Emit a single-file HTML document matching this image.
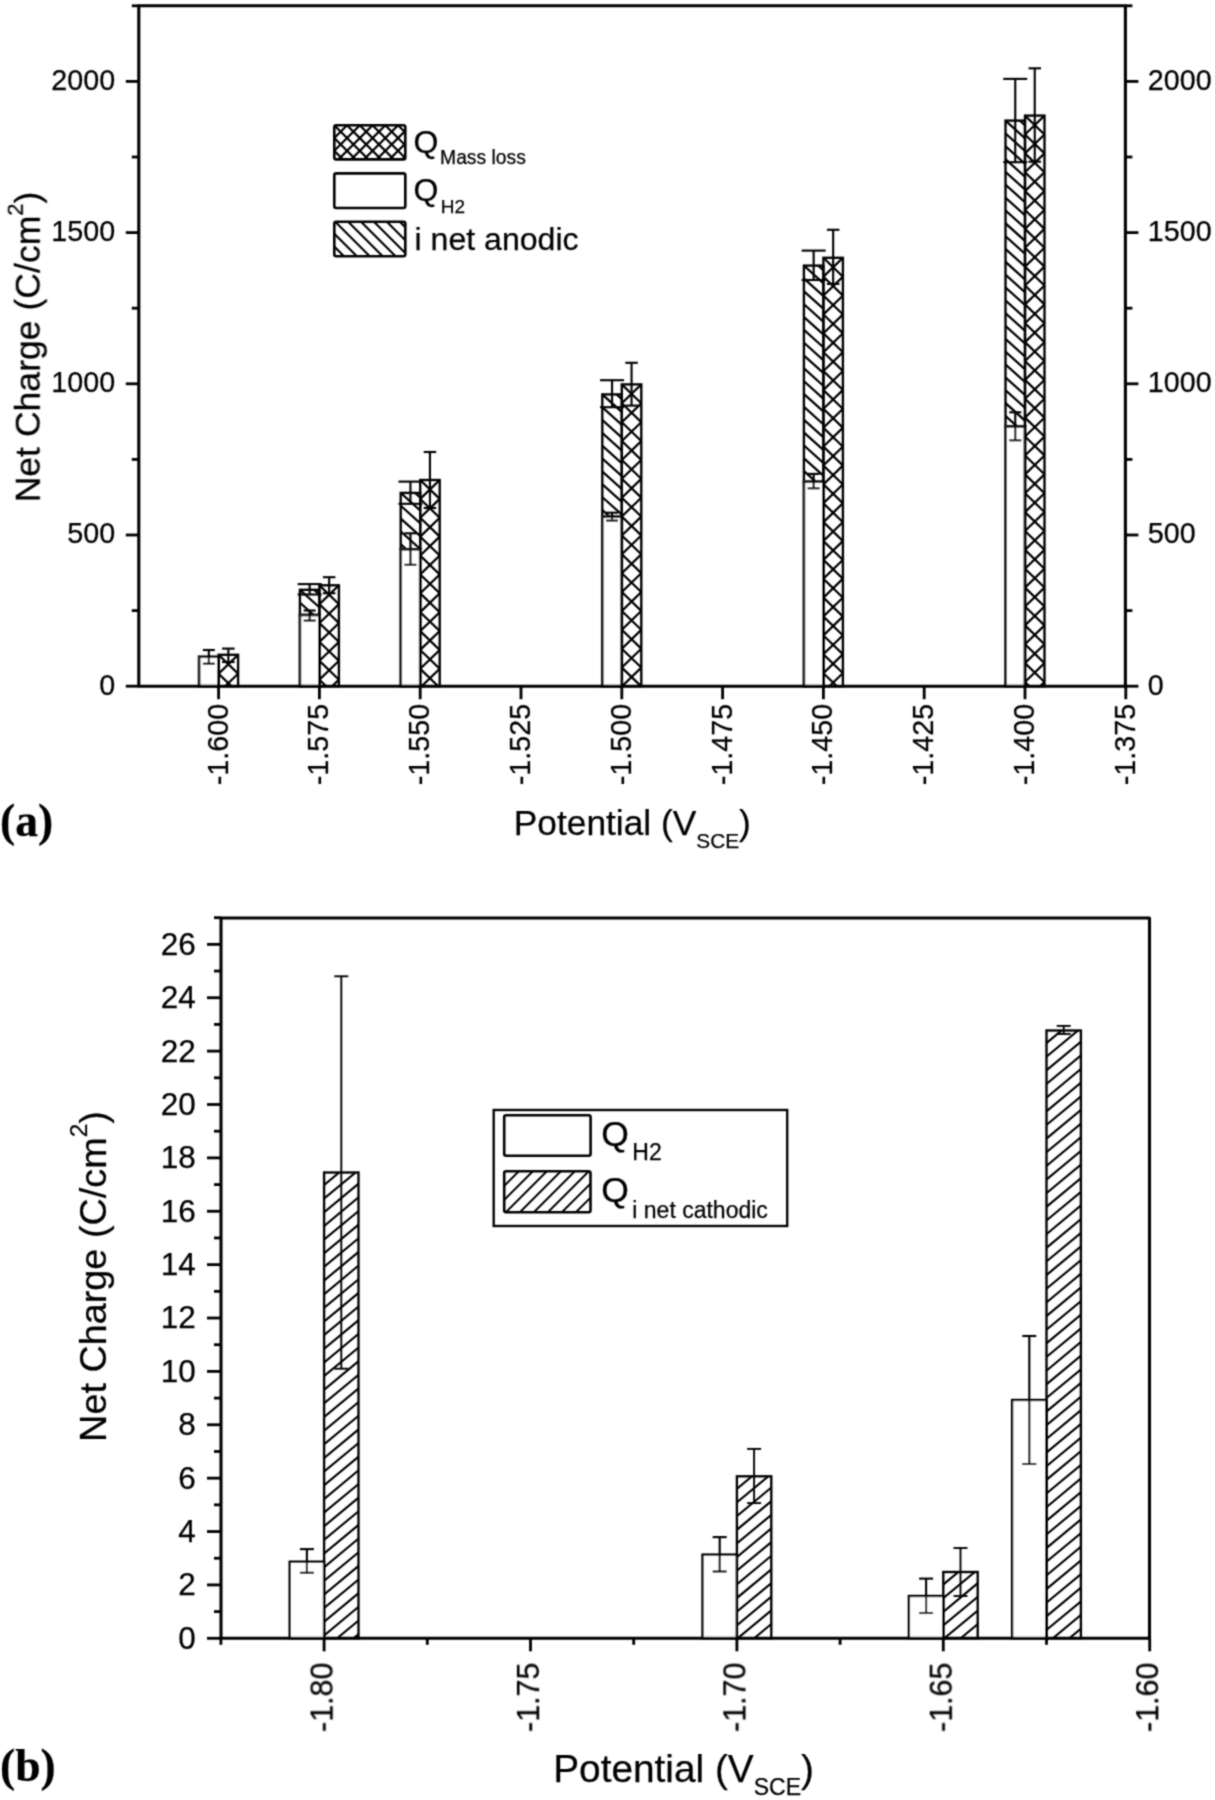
<!DOCTYPE html>
<html><head><meta charset="utf-8"><title>Net charge vs potential</title>
<style>
html,body{margin:0;padding:0;background:#fff;}
body{width:1215px;height:1800px;overflow:hidden;}
svg{display:block;}
text{fill:#000;stroke:#000;stroke-width:0.25px;}
</style></head>
<body>
<svg width="1215" height="1800" viewBox="0 0 1215 1800"><defs><clipPath id="c1"><rect x="218.6" y="654.8" width="19.5" height="31.4"/></clipPath><clipPath id="c2"><rect x="218.6" y="654.8" width="19.5" height="31.4"/></clipPath><clipPath id="c3"><rect x="299.9" y="589.8" width="19.5" height="25.2"/></clipPath><clipPath id="c4"><rect x="319.4" y="585.3" width="19.5" height="100.9"/></clipPath><clipPath id="c5"><rect x="319.4" y="585.3" width="19.5" height="100.9"/></clipPath><clipPath id="c6"><rect x="400.7" y="492.9" width="19.5" height="56.4"/></clipPath><clipPath id="c7"><rect x="420.2" y="480" width="19.5" height="206.2"/></clipPath><clipPath id="c8"><rect x="420.2" y="480" width="19.5" height="206.2"/></clipPath><clipPath id="c9"><rect x="602.3" y="394.4" width="19.5" height="122.3"/></clipPath><clipPath id="c10"><rect x="621.8" y="384.4" width="19.5" height="301.8"/></clipPath><clipPath id="c11"><rect x="621.8" y="384.4" width="19.5" height="301.8"/></clipPath><clipPath id="c12"><rect x="803.9" y="265.6" width="19.5" height="216.1"/></clipPath><clipPath id="c13"><rect x="823.4" y="257.8" width="19.5" height="428.4"/></clipPath><clipPath id="c14"><rect x="823.4" y="257.8" width="19.5" height="428.4"/></clipPath><clipPath id="c15"><rect x="1005.5" y="120.6" width="19.5" height="305.9"/></clipPath><clipPath id="c16"><rect x="1025" y="115.6" width="19.5" height="570.6"/></clipPath><clipPath id="c17"><rect x="1025" y="115.6" width="19.5" height="570.6"/></clipPath><clipPath id="c18"><rect x="334.3" y="125.3" width="71" height="34.1"/></clipPath><clipPath id="c19"><rect x="334.3" y="125.3" width="71" height="34.1"/></clipPath><clipPath id="c20"><rect x="334.3" y="221.8" width="71" height="34.5"/></clipPath><clipPath id="c21"><rect x="324.1" y="1172.5" width="34.4" height="465.8"/></clipPath><clipPath id="c22"><rect x="736.9" y="1476.3" width="34.4" height="162"/></clipPath><clipPath id="c23"><rect x="943.3" y="1572" width="34.4" height="66.3"/></clipPath><clipPath id="c24"><rect x="1046.5" y="1030.5" width="34.4" height="607.8"/></clipPath><clipPath id="c25"><rect x="504.2" y="1171.2" width="86.3" height="41.1"/></clipPath><filter id="soft" filterUnits="userSpaceOnUse" x="0" y="0" width="1215" height="1800"><feConvolveMatrix order="3" kernelMatrix="1 2 1 2 8 2 1 2 1" divisor="20" edgeMode="none"/></filter></defs><rect width="1215" height="1800" fill="#fff"/><g filter="url(#soft)"><rect x="199.1" y="656.7" width="19.5" height="29.5" fill="#fff" stroke="#1c1c1c" stroke-width="2.71" rx="0"/>
<path clip-path="url(#c1)" d="M217.6,634.95L239.1,655.77M217.6,653.83L239.1,674.65M217.6,672.71L239.1,693.53" stroke="#000" stroke-width="2.24" fill="none"/>
<path clip-path="url(#c2)" d="M217.6,655.77L239.1,634.95M217.6,674.65L239.1,653.83M217.6,693.53L239.1,672.71" stroke="#000" stroke-width="2.24" fill="none"/>
<rect x="218.6" y="654.8" width="19.5" height="31.4" fill="none" stroke="#000" stroke-width="2.36" rx="0"/>
<line x1="208.85" y1="650" x2="208.85" y2="663.7" stroke="#000" stroke-width="2.12" stroke-linecap="butt"/>
<line x1="202.85" y1="650" x2="214.85" y2="650" stroke="#000" stroke-width="2.12" stroke-linecap="butt"/>
<line x1="202.85" y1="663.7" x2="214.85" y2="663.7" stroke="#000" stroke-width="2.12" stroke-linecap="butt"/>
<line x1="228.35" y1="648.6" x2="228.35" y2="662" stroke="#000" stroke-width="2.12" stroke-linecap="butt"/>
<line x1="222.1" y1="648.6" x2="234.6" y2="648.6" stroke="#000" stroke-width="2.12" stroke-linecap="butt"/>
<line x1="222.1" y1="662" x2="234.6" y2="662" stroke="#000" stroke-width="2.12" stroke-linecap="butt"/>
<path clip-path="url(#c3)" d="M298.9,576.06L320.4,595.41M298.9,588.9L320.4,608.25M298.9,601.74L320.4,621.09M298.9,614.58L320.4,633.93" stroke="#000" stroke-width="2.24" fill="none"/>
<rect x="299.9" y="589.8" width="19.5" height="25.2" fill="none" stroke="#000" stroke-width="2.36" rx="0"/>
<rect x="299.9" y="615" width="19.5" height="71.2" fill="#fff" stroke="#1c1c1c" stroke-width="2.71" rx="0"/>
<path clip-path="url(#c4)" d="M318.4,565.45L339.9,586.27M318.4,584.33L339.9,605.15M318.4,603.21L339.9,624.03M318.4,622.09L339.9,642.91M318.4,640.97L339.9,661.79M318.4,659.85L339.9,680.67M318.4,678.73L339.9,699.55" stroke="#000" stroke-width="2.24" fill="none"/>
<path clip-path="url(#c5)" d="M318.4,586.27L339.9,565.45M318.4,605.15L339.9,584.33M318.4,624.03L339.9,603.21M318.4,642.91L339.9,622.09M318.4,661.79L339.9,640.97M318.4,680.67L339.9,659.85M318.4,699.55L339.9,678.73" stroke="#000" stroke-width="2.24" fill="none"/>
<rect x="319.4" y="585.3" width="19.5" height="100.9" fill="none" stroke="#000" stroke-width="2.36" rx="0"/>
<line x1="309.65" y1="610.5" x2="309.65" y2="620.6" stroke="#000" stroke-width="2.12" stroke-linecap="butt"/>
<line x1="303.65" y1="610.5" x2="315.65" y2="610.5" stroke="#000" stroke-width="2.12" stroke-linecap="butt"/>
<line x1="303.65" y1="620.6" x2="315.65" y2="620.6" stroke="#000" stroke-width="2.12" stroke-linecap="butt"/>
<line x1="309.65" y1="584.1" x2="309.65" y2="594.5" stroke="#000" stroke-width="2.12" stroke-linecap="butt"/>
<line x1="297.65" y1="584.1" x2="321.65" y2="584.1" stroke="#000" stroke-width="2.12" stroke-linecap="butt"/>
<line x1="297.65" y1="594.5" x2="321.65" y2="594.5" stroke="#000" stroke-width="2.12" stroke-linecap="butt"/>
<line x1="329.15" y1="577.2" x2="329.15" y2="593.2" stroke="#000" stroke-width="2.12" stroke-linecap="butt"/>
<line x1="322.9" y1="577.2" x2="335.4" y2="577.2" stroke="#000" stroke-width="2.12" stroke-linecap="butt"/>
<line x1="322.9" y1="593.2" x2="335.4" y2="593.2" stroke="#000" stroke-width="2.12" stroke-linecap="butt"/>
<path clip-path="url(#c6)" d="M399.7,479.16L421.2,498.51M399.7,492L421.2,511.35M399.7,504.84L421.2,524.19M399.7,517.68L421.2,537.03M399.7,530.52L421.2,549.87M399.7,543.36L421.2,562.71" stroke="#000" stroke-width="2.24" fill="none"/>
<rect x="400.7" y="492.9" width="19.5" height="56.4" fill="none" stroke="#000" stroke-width="2.36" rx="0"/>
<rect x="400.7" y="549.3" width="19.5" height="136.9" fill="#fff" stroke="#1c1c1c" stroke-width="2.71" rx="0"/>
<path clip-path="url(#c7)" d="M419.2,460.15L440.7,480.97M419.2,479.03L440.7,499.85M419.2,497.91L440.7,518.73M419.2,516.79L440.7,537.61M419.2,535.67L440.7,556.49M419.2,554.55L440.7,575.37M419.2,573.43L440.7,594.25M419.2,592.31L440.7,613.13M419.2,611.19L440.7,632.01M419.2,630.07L440.7,650.89M419.2,648.95L440.7,669.77M419.2,667.83L440.7,688.65M419.2,686.71L440.7,707.53" stroke="#000" stroke-width="2.24" fill="none"/>
<path clip-path="url(#c8)" d="M419.2,480.97L440.7,460.15M419.2,499.85L440.7,479.03M419.2,518.73L440.7,497.91M419.2,537.61L440.7,516.79M419.2,556.49L440.7,535.67M419.2,575.37L440.7,554.55M419.2,594.25L440.7,573.43M419.2,613.13L440.7,592.31M419.2,632.01L440.7,611.19M419.2,650.89L440.7,630.07M419.2,669.77L440.7,648.95M419.2,688.65L440.7,667.83M419.2,707.53L440.7,686.71" stroke="#000" stroke-width="2.24" fill="none"/>
<rect x="420.2" y="480" width="19.5" height="206.2" fill="none" stroke="#000" stroke-width="2.36" rx="0"/>
<line x1="410.45" y1="533.3" x2="410.45" y2="564.8" stroke="#000" stroke-width="2.12" stroke-linecap="butt"/>
<line x1="404.45" y1="533.3" x2="416.45" y2="533.3" stroke="#000" stroke-width="2.12" stroke-linecap="butt"/>
<line x1="404.45" y1="564.8" x2="416.45" y2="564.8" stroke="#000" stroke-width="2.12" stroke-linecap="butt"/>
<line x1="410.45" y1="481.6" x2="410.45" y2="503.8" stroke="#000" stroke-width="2.12" stroke-linecap="butt"/>
<line x1="398.45" y1="481.6" x2="422.45" y2="481.6" stroke="#000" stroke-width="2.12" stroke-linecap="butt"/>
<line x1="398.45" y1="503.8" x2="422.45" y2="503.8" stroke="#000" stroke-width="2.12" stroke-linecap="butt"/>
<line x1="429.95" y1="452" x2="429.95" y2="508" stroke="#000" stroke-width="2.12" stroke-linecap="butt"/>
<line x1="423.7" y1="452" x2="436.2" y2="452" stroke="#000" stroke-width="2.12" stroke-linecap="butt"/>
<line x1="423.7" y1="508" x2="436.2" y2="508" stroke="#000" stroke-width="2.12" stroke-linecap="butt"/>
<path clip-path="url(#c9)" d="M601.3,380.66L622.8,400.01M601.3,393.5L622.8,412.85M601.3,406.34L622.8,425.69M601.3,419.18L622.8,438.53M601.3,432.02L622.8,451.37M601.3,444.86L622.8,464.21M601.3,457.7L622.8,477.05M601.3,470.54L622.8,489.89M601.3,483.38L622.8,502.73M601.3,496.22L622.8,515.57M601.3,509.06L622.8,528.41" stroke="#000" stroke-width="2.24" fill="none"/>
<rect x="602.3" y="394.4" width="19.5" height="122.3" fill="none" stroke="#000" stroke-width="2.36" rx="0"/>
<rect x="602.3" y="516.7" width="19.5" height="169.5" fill="#fff" stroke="#1c1c1c" stroke-width="2.71" rx="0"/>
<path clip-path="url(#c10)" d="M620.8,364.55L642.3,385.37M620.8,383.43L642.3,404.25M620.8,402.31L642.3,423.13M620.8,421.19L642.3,442.01M620.8,440.07L642.3,460.89M620.8,458.95L642.3,479.77M620.8,477.83L642.3,498.65M620.8,496.71L642.3,517.53M620.8,515.59L642.3,536.41M620.8,534.47L642.3,555.29M620.8,553.35L642.3,574.17M620.8,572.23L642.3,593.05M620.8,591.11L642.3,611.93M620.8,609.99L642.3,630.81M620.8,628.87L642.3,649.69M620.8,647.75L642.3,668.57M620.8,666.63L642.3,687.45M620.8,685.51L642.3,706.33" stroke="#000" stroke-width="2.24" fill="none"/>
<path clip-path="url(#c11)" d="M620.8,385.37L642.3,364.55M620.8,404.25L642.3,383.43M620.8,423.13L642.3,402.31M620.8,442.01L642.3,421.19M620.8,460.89L642.3,440.07M620.8,479.77L642.3,458.95M620.8,498.65L642.3,477.83M620.8,517.53L642.3,496.71M620.8,536.41L642.3,515.59M620.8,555.29L642.3,534.47M620.8,574.17L642.3,553.35M620.8,593.05L642.3,572.23M620.8,611.93L642.3,591.11M620.8,630.81L642.3,609.99M620.8,649.69L642.3,628.87M620.8,668.57L642.3,647.75M620.8,687.45L642.3,666.63M620.8,706.33L642.3,685.51" stroke="#000" stroke-width="2.24" fill="none"/>
<rect x="621.8" y="384.4" width="19.5" height="301.8" fill="none" stroke="#000" stroke-width="2.36" rx="0"/>
<line x1="612.05" y1="512.7" x2="612.05" y2="520.6" stroke="#000" stroke-width="2.12" stroke-linecap="butt"/>
<line x1="606.05" y1="512.7" x2="618.05" y2="512.7" stroke="#000" stroke-width="2.12" stroke-linecap="butt"/>
<line x1="606.05" y1="520.6" x2="618.05" y2="520.6" stroke="#000" stroke-width="2.12" stroke-linecap="butt"/>
<line x1="612.05" y1="380.2" x2="612.05" y2="407.2" stroke="#000" stroke-width="2.12" stroke-linecap="butt"/>
<line x1="600.05" y1="380.2" x2="624.05" y2="380.2" stroke="#000" stroke-width="2.12" stroke-linecap="butt"/>
<line x1="600.05" y1="407.2" x2="624.05" y2="407.2" stroke="#000" stroke-width="2.12" stroke-linecap="butt"/>
<line x1="631.55" y1="362.8" x2="631.55" y2="405.6" stroke="#000" stroke-width="2.12" stroke-linecap="butt"/>
<line x1="625.3" y1="362.8" x2="637.8" y2="362.8" stroke="#000" stroke-width="2.12" stroke-linecap="butt"/>
<line x1="625.3" y1="405.6" x2="637.8" y2="405.6" stroke="#000" stroke-width="2.12" stroke-linecap="butt"/>
<path clip-path="url(#c12)" d="M802.9,251.86L824.4,271.21M802.9,264.7L824.4,284.05M802.9,277.54L824.4,296.89M802.9,290.38L824.4,309.73M802.9,303.22L824.4,322.57M802.9,316.06L824.4,335.41M802.9,328.9L824.4,348.25M802.9,341.74L824.4,361.09M802.9,354.58L824.4,373.93M802.9,367.42L824.4,386.77M802.9,380.26L824.4,399.61M802.9,393.1L824.4,412.45M802.9,405.94L824.4,425.29M802.9,418.78L824.4,438.13M802.9,431.62L824.4,450.97M802.9,444.46L824.4,463.81M802.9,457.3L824.4,476.65M802.9,470.14L824.4,489.49" stroke="#000" stroke-width="2.24" fill="none"/>
<rect x="803.9" y="265.6" width="19.5" height="216.1" fill="none" stroke="#000" stroke-width="2.36" rx="0"/>
<rect x="803.9" y="481.7" width="19.5" height="204.5" fill="#fff" stroke="#1c1c1c" stroke-width="2.71" rx="0"/>
<path clip-path="url(#c13)" d="M822.4,237.95L843.9,258.77M822.4,256.83L843.9,277.65M822.4,275.71L843.9,296.53M822.4,294.59L843.9,315.41M822.4,313.47L843.9,334.29M822.4,332.35L843.9,353.17M822.4,351.23L843.9,372.05M822.4,370.11L843.9,390.93M822.4,388.99L843.9,409.81M822.4,407.87L843.9,428.69M822.4,426.75L843.9,447.57M822.4,445.63L843.9,466.45M822.4,464.51L843.9,485.33M822.4,483.39L843.9,504.21M822.4,502.27L843.9,523.09M822.4,521.15L843.9,541.97M822.4,540.03L843.9,560.85M822.4,558.91L843.9,579.73M822.4,577.79L843.9,598.61M822.4,596.67L843.9,617.49M822.4,615.55L843.9,636.37M822.4,634.43L843.9,655.25M822.4,653.31L843.9,674.13M822.4,672.19L843.9,693.01" stroke="#000" stroke-width="2.24" fill="none"/>
<path clip-path="url(#c14)" d="M822.4,258.77L843.9,237.95M822.4,277.65L843.9,256.83M822.4,296.53L843.9,275.71M822.4,315.41L843.9,294.59M822.4,334.29L843.9,313.47M822.4,353.17L843.9,332.35M822.4,372.05L843.9,351.23M822.4,390.93L843.9,370.11M822.4,409.81L843.9,388.99M822.4,428.69L843.9,407.87M822.4,447.57L843.9,426.75M822.4,466.45L843.9,445.63M822.4,485.33L843.9,464.51M822.4,504.21L843.9,483.39M822.4,523.09L843.9,502.27M822.4,541.97L843.9,521.15M822.4,560.85L843.9,540.03M822.4,579.73L843.9,558.91M822.4,598.61L843.9,577.79M822.4,617.49L843.9,596.67M822.4,636.37L843.9,615.55M822.4,655.25L843.9,634.43M822.4,674.13L843.9,653.31M822.4,693.01L843.9,672.19" stroke="#000" stroke-width="2.24" fill="none"/>
<rect x="823.4" y="257.8" width="19.5" height="428.4" fill="none" stroke="#000" stroke-width="2.36" rx="0"/>
<line x1="813.65" y1="473.9" x2="813.65" y2="488.3" stroke="#000" stroke-width="2.12" stroke-linecap="butt"/>
<line x1="807.65" y1="473.9" x2="819.65" y2="473.9" stroke="#000" stroke-width="2.12" stroke-linecap="butt"/>
<line x1="807.65" y1="488.3" x2="819.65" y2="488.3" stroke="#000" stroke-width="2.12" stroke-linecap="butt"/>
<line x1="813.65" y1="250.6" x2="813.65" y2="280" stroke="#000" stroke-width="2.12" stroke-linecap="butt"/>
<line x1="801.65" y1="250.6" x2="825.65" y2="250.6" stroke="#000" stroke-width="2.12" stroke-linecap="butt"/>
<line x1="801.65" y1="280" x2="825.65" y2="280" stroke="#000" stroke-width="2.12" stroke-linecap="butt"/>
<line x1="833.15" y1="229.8" x2="833.15" y2="283.9" stroke="#000" stroke-width="2.12" stroke-linecap="butt"/>
<line x1="826.9" y1="229.8" x2="839.4" y2="229.8" stroke="#000" stroke-width="2.12" stroke-linecap="butt"/>
<line x1="826.9" y1="283.9" x2="839.4" y2="283.9" stroke="#000" stroke-width="2.12" stroke-linecap="butt"/>
<path clip-path="url(#c15)" d="M1004.5,106.86L1026,126.21M1004.5,119.7L1026,139.05M1004.5,132.54L1026,151.89M1004.5,145.38L1026,164.73M1004.5,158.22L1026,177.57M1004.5,171.06L1026,190.41M1004.5,183.9L1026,203.25M1004.5,196.74L1026,216.09M1004.5,209.58L1026,228.93M1004.5,222.42L1026,241.77M1004.5,235.26L1026,254.61M1004.5,248.1L1026,267.45M1004.5,260.94L1026,280.29M1004.5,273.78L1026,293.13M1004.5,286.62L1026,305.97M1004.5,299.46L1026,318.81M1004.5,312.3L1026,331.65M1004.5,325.14L1026,344.49M1004.5,337.98L1026,357.33M1004.5,350.82L1026,370.17M1004.5,363.66L1026,383.01M1004.5,376.5L1026,395.85M1004.5,389.34L1026,408.69M1004.5,402.18L1026,421.53M1004.5,415.02L1026,434.37" stroke="#000" stroke-width="2.24" fill="none"/>
<rect x="1005.5" y="120.6" width="19.5" height="305.9" fill="none" stroke="#000" stroke-width="2.36" rx="0"/>
<rect x="1005.5" y="426.5" width="19.5" height="259.7" fill="#fff" stroke="#1c1c1c" stroke-width="2.71" rx="0"/>
<path clip-path="url(#c16)" d="M1024,95.75L1045.5,116.57M1024,114.63L1045.5,135.45M1024,133.51L1045.5,154.33M1024,152.39L1045.5,173.21M1024,171.27L1045.5,192.09M1024,190.15L1045.5,210.97M1024,209.03L1045.5,229.85M1024,227.91L1045.5,248.73M1024,246.79L1045.5,267.61M1024,265.67L1045.5,286.49M1024,284.55L1045.5,305.37M1024,303.43L1045.5,324.25M1024,322.31L1045.5,343.13M1024,341.19L1045.5,362.01M1024,360.07L1045.5,380.89M1024,378.95L1045.5,399.77M1024,397.83L1045.5,418.65M1024,416.71L1045.5,437.53M1024,435.59L1045.5,456.41M1024,454.47L1045.5,475.29M1024,473.35L1045.5,494.17M1024,492.23L1045.5,513.05M1024,511.11L1045.5,531.93M1024,529.99L1045.5,550.81M1024,548.87L1045.5,569.69M1024,567.75L1045.5,588.57M1024,586.63L1045.5,607.45M1024,605.51L1045.5,626.33M1024,624.39L1045.5,645.21M1024,643.27L1045.5,664.09M1024,662.15L1045.5,682.97M1024,681.03L1045.5,701.85" stroke="#000" stroke-width="2.24" fill="none"/>
<path clip-path="url(#c17)" d="M1024,116.57L1045.5,95.75M1024,135.45L1045.5,114.63M1024,154.33L1045.5,133.51M1024,173.21L1045.5,152.39M1024,192.09L1045.5,171.27M1024,210.97L1045.5,190.15M1024,229.85L1045.5,209.03M1024,248.73L1045.5,227.91M1024,267.61L1045.5,246.79M1024,286.49L1045.5,265.67M1024,305.37L1045.5,284.55M1024,324.25L1045.5,303.43M1024,343.13L1045.5,322.31M1024,362.01L1045.5,341.19M1024,380.89L1045.5,360.07M1024,399.77L1045.5,378.95M1024,418.65L1045.5,397.83M1024,437.53L1045.5,416.71M1024,456.41L1045.5,435.59M1024,475.29L1045.5,454.47M1024,494.17L1045.5,473.35M1024,513.05L1045.5,492.23M1024,531.93L1045.5,511.11M1024,550.81L1045.5,529.99M1024,569.69L1045.5,548.87M1024,588.57L1045.5,567.75M1024,607.45L1045.5,586.63M1024,626.33L1045.5,605.51M1024,645.21L1045.5,624.39M1024,664.09L1045.5,643.27M1024,682.97L1045.5,662.15M1024,701.85L1045.5,681.03" stroke="#000" stroke-width="2.24" fill="none"/>
<rect x="1025" y="115.6" width="19.5" height="570.6" fill="none" stroke="#000" stroke-width="2.36" rx="0"/>
<line x1="1015.25" y1="412.3" x2="1015.25" y2="440.3" stroke="#000" stroke-width="2.12" stroke-linecap="butt"/>
<line x1="1009.25" y1="412.3" x2="1021.25" y2="412.3" stroke="#000" stroke-width="2.12" stroke-linecap="butt"/>
<line x1="1009.25" y1="440.3" x2="1021.25" y2="440.3" stroke="#000" stroke-width="2.12" stroke-linecap="butt"/>
<line x1="1015.25" y1="78.9" x2="1015.25" y2="162.2" stroke="#000" stroke-width="2.12" stroke-linecap="butt"/>
<line x1="1003.25" y1="78.9" x2="1027.25" y2="78.9" stroke="#000" stroke-width="2.12" stroke-linecap="butt"/>
<line x1="1003.25" y1="162.2" x2="1027.25" y2="162.2" stroke="#000" stroke-width="2.12" stroke-linecap="butt"/>
<line x1="1034.75" y1="68.3" x2="1034.75" y2="161.7" stroke="#000" stroke-width="2.12" stroke-linecap="butt"/>
<line x1="1028.5" y1="68.3" x2="1041" y2="68.3" stroke="#000" stroke-width="2.12" stroke-linecap="butt"/>
<line x1="1028.5" y1="161.7" x2="1041" y2="161.7" stroke="#000" stroke-width="2.12" stroke-linecap="butt"/>
<path d="M138.8,686.2V5.8H1125.4V686.2Z" fill="none" stroke="#000" stroke-width="3.07" stroke-linejoin="round"/>
<line x1="125.8" y1="686.2" x2="138.8" y2="686.2" stroke="#000" stroke-width="2.83" stroke-linecap="butt"/>
<line x1="1125.4" y1="686.2" x2="1138.4" y2="686.2" stroke="#000" stroke-width="2.83" stroke-linecap="butt"/>
<text x="115.2" y="694.6" font-family="Liberation Sans" font-size="28.7" font-weight="normal" text-anchor="end">0</text>
<text x="1147.8" y="694.6" font-family="Liberation Sans" font-size="28.7" font-weight="normal" text-anchor="start">0</text>
<line x1="131.8" y1="610.6" x2="138.8" y2="610.6" stroke="#000" stroke-width="2.83" stroke-linecap="butt"/>
<line x1="1125.4" y1="610.6" x2="1132.4" y2="610.6" stroke="#000" stroke-width="2.83" stroke-linecap="butt"/>
<line x1="125.8" y1="535" x2="138.8" y2="535" stroke="#000" stroke-width="2.83" stroke-linecap="butt"/>
<line x1="1125.4" y1="535" x2="1138.4" y2="535" stroke="#000" stroke-width="2.83" stroke-linecap="butt"/>
<text x="115.2" y="543.4" font-family="Liberation Sans" font-size="28.7" font-weight="normal" text-anchor="end">500</text>
<text x="1147.8" y="543.4" font-family="Liberation Sans" font-size="28.7" font-weight="normal" text-anchor="start">500</text>
<line x1="131.8" y1="459.4" x2="138.8" y2="459.4" stroke="#000" stroke-width="2.83" stroke-linecap="butt"/>
<line x1="1125.4" y1="459.4" x2="1132.4" y2="459.4" stroke="#000" stroke-width="2.83" stroke-linecap="butt"/>
<line x1="125.8" y1="383.8" x2="138.8" y2="383.8" stroke="#000" stroke-width="2.83" stroke-linecap="butt"/>
<line x1="1125.4" y1="383.8" x2="1138.4" y2="383.8" stroke="#000" stroke-width="2.83" stroke-linecap="butt"/>
<text x="115.2" y="392.2" font-family="Liberation Sans" font-size="28.7" font-weight="normal" text-anchor="end">1000</text>
<text x="1147.8" y="392.2" font-family="Liberation Sans" font-size="28.7" font-weight="normal" text-anchor="start">1000</text>
<line x1="131.8" y1="308.2" x2="138.8" y2="308.2" stroke="#000" stroke-width="2.83" stroke-linecap="butt"/>
<line x1="1125.4" y1="308.2" x2="1132.4" y2="308.2" stroke="#000" stroke-width="2.83" stroke-linecap="butt"/>
<line x1="125.8" y1="232.6" x2="138.8" y2="232.6" stroke="#000" stroke-width="2.83" stroke-linecap="butt"/>
<line x1="1125.4" y1="232.6" x2="1138.4" y2="232.6" stroke="#000" stroke-width="2.83" stroke-linecap="butt"/>
<text x="115.2" y="241" font-family="Liberation Sans" font-size="28.7" font-weight="normal" text-anchor="end">1500</text>
<text x="1147.8" y="241" font-family="Liberation Sans" font-size="28.7" font-weight="normal" text-anchor="start">1500</text>
<line x1="131.8" y1="157" x2="138.8" y2="157" stroke="#000" stroke-width="2.83" stroke-linecap="butt"/>
<line x1="1125.4" y1="157" x2="1132.4" y2="157" stroke="#000" stroke-width="2.83" stroke-linecap="butt"/>
<line x1="125.8" y1="81.4" x2="138.8" y2="81.4" stroke="#000" stroke-width="2.83" stroke-linecap="butt"/>
<line x1="1125.4" y1="81.4" x2="1138.4" y2="81.4" stroke="#000" stroke-width="2.83" stroke-linecap="butt"/>
<text x="115.2" y="89.8" font-family="Liberation Sans" font-size="28.7" font-weight="normal" text-anchor="end">2000</text>
<text x="1147.8" y="89.8" font-family="Liberation Sans" font-size="28.7" font-weight="normal" text-anchor="start">2000</text>
<line x1="131.8" y1="5.8" x2="138.8" y2="5.8" stroke="#000" stroke-width="2.83" stroke-linecap="butt"/>
<line x1="1125.4" y1="5.8" x2="1132.4" y2="5.8" stroke="#000" stroke-width="2.83" stroke-linecap="butt"/>
<line x1="218.6" y1="686.2" x2="218.6" y2="699.2" stroke="#000" stroke-width="2.83" stroke-linecap="butt"/>
<text x="0" y="0" font-family="Liberation Sans" font-size="28.7" font-weight="normal" text-anchor="end" transform="translate(227.5,703.9) rotate(-90)">-1.600</text>
<line x1="319.4" y1="686.2" x2="319.4" y2="699.2" stroke="#000" stroke-width="2.83" stroke-linecap="butt"/>
<text x="0" y="0" font-family="Liberation Sans" font-size="28.7" font-weight="normal" text-anchor="end" transform="translate(328.3,703.9) rotate(-90)">-1.575</text>
<line x1="420.2" y1="686.2" x2="420.2" y2="699.2" stroke="#000" stroke-width="2.83" stroke-linecap="butt"/>
<text x="0" y="0" font-family="Liberation Sans" font-size="28.7" font-weight="normal" text-anchor="end" transform="translate(429.1,703.9) rotate(-90)">-1.550</text>
<line x1="521" y1="686.2" x2="521" y2="699.2" stroke="#000" stroke-width="2.83" stroke-linecap="butt"/>
<text x="0" y="0" font-family="Liberation Sans" font-size="28.7" font-weight="normal" text-anchor="end" transform="translate(529.9,703.9) rotate(-90)">-1.525</text>
<line x1="621.8" y1="686.2" x2="621.8" y2="699.2" stroke="#000" stroke-width="2.83" stroke-linecap="butt"/>
<text x="0" y="0" font-family="Liberation Sans" font-size="28.7" font-weight="normal" text-anchor="end" transform="translate(630.7,703.9) rotate(-90)">-1.500</text>
<line x1="722.6" y1="686.2" x2="722.6" y2="699.2" stroke="#000" stroke-width="2.83" stroke-linecap="butt"/>
<text x="0" y="0" font-family="Liberation Sans" font-size="28.7" font-weight="normal" text-anchor="end" transform="translate(731.5,703.9) rotate(-90)">-1.475</text>
<line x1="823.4" y1="686.2" x2="823.4" y2="699.2" stroke="#000" stroke-width="2.83" stroke-linecap="butt"/>
<text x="0" y="0" font-family="Liberation Sans" font-size="28.7" font-weight="normal" text-anchor="end" transform="translate(832.3,703.9) rotate(-90)">-1.450</text>
<line x1="924.2" y1="686.2" x2="924.2" y2="699.2" stroke="#000" stroke-width="2.83" stroke-linecap="butt"/>
<text x="0" y="0" font-family="Liberation Sans" font-size="28.7" font-weight="normal" text-anchor="end" transform="translate(933.1,703.9) rotate(-90)">-1.425</text>
<line x1="1025" y1="686.2" x2="1025" y2="699.2" stroke="#000" stroke-width="2.83" stroke-linecap="butt"/>
<text x="0" y="0" font-family="Liberation Sans" font-size="28.7" font-weight="normal" text-anchor="end" transform="translate(1033.9,703.9) rotate(-90)">-1.400</text>
<line x1="1125.8" y1="686.2" x2="1125.8" y2="699.2" stroke="#000" stroke-width="2.83" stroke-linecap="butt"/>
<text x="0" y="0" font-family="Liberation Sans" font-size="28.7" font-weight="normal" text-anchor="end" transform="translate(1134.7,703.9) rotate(-90)">-1.375</text>
<text x="0" y="0" font-family="Liberation Sans" font-size="35.6" font-weight="normal" text-anchor="middle" transform="translate(39.7,347) rotate(-90)">Net Charge (C/cm<tspan dy="-17.3" font-size="21.9">2</tspan><tspan dy="17.3">)</tspan></text>
<text x="513.8" y="834.8" font-family="Liberation Sans" font-size="35.3" font-weight="normal" text-anchor="start">Potential (V<tspan dy="13" font-size="20.8">SCE</tspan><tspan dy="-13">)</tspan></text>
<text x="0" y="835.5" font-family="Liberation Serif" font-size="45.5" font-weight="bold" text-anchor="start">(a)</text>
<path clip-path="url(#c18)" d="M333.3,60.55L406.3,133.55M333.3,73.3L406.3,146.3M333.3,86.05L406.3,159.05M333.3,98.8L406.3,171.8M333.3,111.55L406.3,184.55M333.3,124.3L406.3,197.3M333.3,137.05L406.3,210.05M333.3,149.8L406.3,222.8" stroke="#000" stroke-width="2.24" fill="none"/>
<path clip-path="url(#c19)" d="M333.3,126.3L406.3,53.3M333.3,139.05L406.3,66.05M333.3,151.8L406.3,78.8M333.3,164.55L406.3,91.55M333.3,177.3L406.3,104.3M333.3,190.05L406.3,117.05M333.3,202.8L406.3,129.8M333.3,215.55L406.3,142.55M333.3,228.3L406.3,155.3" stroke="#000" stroke-width="2.24" fill="none"/>
<rect x="334.3" y="125.3" width="71" height="34.1" fill="none" stroke="#000" stroke-width="2.6" rx="2"/>
<rect x="334.3" y="173.4" width="71" height="34.6" fill="none" stroke="#000" stroke-width="2.6" rx="2"/>
<path clip-path="url(#c20)" d="M333.3,155.3L406.3,228.3M333.3,168.2L406.3,241.2M333.3,181.1L406.3,254.1M333.3,194L406.3,267M333.3,206.9L406.3,279.9M333.3,219.8L406.3,292.8M333.3,232.7L406.3,305.7M333.3,245.6L406.3,318.6" stroke="#000" stroke-width="2.12" fill="none"/>
<rect x="334.3" y="221.8" width="71" height="34.5" fill="none" stroke="#000" stroke-width="2.6" rx="2"/>
<text x="413.5" y="152.6" font-family="Liberation Sans" font-size="32" font-weight="normal" text-anchor="start">Q<tspan dx="1.7" dy="11.7" font-size="19.3">Mass loss</tspan></text>
<text x="413.5" y="201" font-family="Liberation Sans" font-size="32" font-weight="normal" text-anchor="start">Q<tspan dx="2.3" dy="11.9" font-size="19">H2</tspan></text>
<text x="414.5" y="249.6" font-family="Liberation Sans" font-size="32.1" font-weight="normal" text-anchor="start">i net anodic</text>
<rect x="289.7" y="1561.7" width="34.4" height="76.6" fill="#fff" stroke="#000" stroke-width="2.36" rx="0"/>
<path clip-path="url(#c21)" d="M323.1,1172.18L359.5,1141.97M323.1,1185.83L359.5,1155.62M323.1,1199.48L359.5,1169.27M323.1,1213.13L359.5,1182.92M323.1,1226.78L359.5,1196.57M323.1,1240.43L359.5,1210.22M323.1,1254.08L359.5,1223.87M323.1,1267.73L359.5,1237.52M323.1,1281.38L359.5,1251.17M323.1,1295.03L359.5,1264.82M323.1,1308.68L359.5,1278.47M323.1,1322.33L359.5,1292.12M323.1,1335.98L359.5,1305.77M323.1,1349.63L359.5,1319.42M323.1,1363.28L359.5,1333.07M323.1,1376.93L359.5,1346.72M323.1,1390.58L359.5,1360.37M323.1,1404.23L359.5,1374.02M323.1,1417.88L359.5,1387.67M323.1,1431.53L359.5,1401.32M323.1,1445.18L359.5,1414.97M323.1,1458.83L359.5,1428.62M323.1,1472.48L359.5,1442.27M323.1,1486.13L359.5,1455.92M323.1,1499.78L359.5,1469.57M323.1,1513.43L359.5,1483.22M323.1,1527.08L359.5,1496.87M323.1,1540.73L359.5,1510.52M323.1,1554.38L359.5,1524.17M323.1,1568.03L359.5,1537.82M323.1,1581.68L359.5,1551.47M323.1,1595.33L359.5,1565.12M323.1,1608.98L359.5,1578.77M323.1,1622.63L359.5,1592.42M323.1,1636.28L359.5,1606.07M323.1,1649.93L359.5,1619.72M323.1,1663.58L359.5,1633.37" stroke="#000" stroke-width="2.12" fill="none"/>
<rect x="324.1" y="1172.5" width="34.4" height="465.8" fill="none" stroke="#000" stroke-width="2.36" rx="0"/>
<line x1="306.9" y1="1549.1" x2="306.9" y2="1572.8" stroke="#000" stroke-width="2.12" stroke-linecap="butt"/>
<line x1="299.9" y1="1549.1" x2="313.9" y2="1549.1" stroke="#000" stroke-width="2.12" stroke-linecap="butt"/>
<line x1="299.9" y1="1572.8" x2="313.9" y2="1572.8" stroke="#000" stroke-width="2.12" stroke-linecap="butt"/>
<line x1="341.3" y1="976.3" x2="341.3" y2="1368.7" stroke="#000" stroke-width="1.89" stroke-linecap="butt"/>
<line x1="334.3" y1="976.3" x2="348.3" y2="976.3" stroke="#000" stroke-width="1.89" stroke-linecap="butt"/>
<line x1="334.3" y1="1368.7" x2="348.3" y2="1368.7" stroke="#000" stroke-width="1.89" stroke-linecap="butt"/>
<rect x="702.5" y="1554.6" width="34.4" height="83.7" fill="#fff" stroke="#000" stroke-width="2.36" rx="0"/>
<path clip-path="url(#c22)" d="M735.9,1475.98L772.3,1445.77M735.9,1489.63L772.3,1459.42M735.9,1503.28L772.3,1473.07M735.9,1516.93L772.3,1486.72M735.9,1530.58L772.3,1500.37M735.9,1544.23L772.3,1514.02M735.9,1557.88L772.3,1527.67M735.9,1571.53L772.3,1541.32M735.9,1585.18L772.3,1554.97M735.9,1598.83L772.3,1568.62M735.9,1612.48L772.3,1582.27M735.9,1626.13L772.3,1595.92M735.9,1639.78L772.3,1609.57M735.9,1653.43L772.3,1623.22M735.9,1667.08L772.3,1636.87" stroke="#000" stroke-width="2.12" fill="none"/>
<rect x="736.9" y="1476.3" width="34.4" height="162" fill="none" stroke="#000" stroke-width="2.36" rx="0"/>
<line x1="719.7" y1="1537.1" x2="719.7" y2="1571.5" stroke="#000" stroke-width="2.12" stroke-linecap="butt"/>
<line x1="712.7" y1="1537.1" x2="726.7" y2="1537.1" stroke="#000" stroke-width="2.12" stroke-linecap="butt"/>
<line x1="712.7" y1="1571.5" x2="726.7" y2="1571.5" stroke="#000" stroke-width="2.12" stroke-linecap="butt"/>
<line x1="754.1" y1="1448.9" x2="754.1" y2="1503.1" stroke="#000" stroke-width="1.89" stroke-linecap="butt"/>
<line x1="747.1" y1="1448.9" x2="761.1" y2="1448.9" stroke="#000" stroke-width="1.89" stroke-linecap="butt"/>
<line x1="747.1" y1="1503.1" x2="761.1" y2="1503.1" stroke="#000" stroke-width="1.89" stroke-linecap="butt"/>
<rect x="908.9" y="1596" width="34.4" height="42.3" fill="#fff" stroke="#000" stroke-width="2.36" rx="0"/>
<path clip-path="url(#c23)" d="M942.3,1571.68L978.7,1541.47M942.3,1585.33L978.7,1555.12M942.3,1598.98L978.7,1568.77M942.3,1612.63L978.7,1582.42M942.3,1626.28L978.7,1596.07M942.3,1639.93L978.7,1609.72M942.3,1653.58L978.7,1623.37M942.3,1667.23L978.7,1637.02" stroke="#000" stroke-width="2.12" fill="none"/>
<rect x="943.3" y="1572" width="34.4" height="66.3" fill="none" stroke="#000" stroke-width="2.36" rx="0"/>
<line x1="926.1" y1="1578.6" x2="926.1" y2="1613" stroke="#000" stroke-width="2.12" stroke-linecap="butt"/>
<line x1="919.1" y1="1578.6" x2="933.1" y2="1578.6" stroke="#000" stroke-width="2.12" stroke-linecap="butt"/>
<line x1="919.1" y1="1613" x2="933.1" y2="1613" stroke="#000" stroke-width="2.12" stroke-linecap="butt"/>
<line x1="960.5" y1="1548" x2="960.5" y2="1596" stroke="#000" stroke-width="1.89" stroke-linecap="butt"/>
<line x1="953.5" y1="1548" x2="967.5" y2="1548" stroke="#000" stroke-width="1.89" stroke-linecap="butt"/>
<line x1="953.5" y1="1596" x2="967.5" y2="1596" stroke="#000" stroke-width="1.89" stroke-linecap="butt"/>
<rect x="1012.1" y="1400" width="34.4" height="238.3" fill="#fff" stroke="#000" stroke-width="2.36" rx="0"/>
<path clip-path="url(#c24)" d="M1045.5,1030.18L1081.9,999.97M1045.5,1043.83L1081.9,1013.62M1045.5,1057.48L1081.9,1027.27M1045.5,1071.13L1081.9,1040.92M1045.5,1084.78L1081.9,1054.57M1045.5,1098.43L1081.9,1068.22M1045.5,1112.08L1081.9,1081.87M1045.5,1125.73L1081.9,1095.52M1045.5,1139.38L1081.9,1109.17M1045.5,1153.03L1081.9,1122.82M1045.5,1166.68L1081.9,1136.47M1045.5,1180.33L1081.9,1150.12M1045.5,1193.98L1081.9,1163.77M1045.5,1207.63L1081.9,1177.42M1045.5,1221.28L1081.9,1191.07M1045.5,1234.93L1081.9,1204.72M1045.5,1248.58L1081.9,1218.37M1045.5,1262.23L1081.9,1232.02M1045.5,1275.88L1081.9,1245.67M1045.5,1289.53L1081.9,1259.32M1045.5,1303.18L1081.9,1272.97M1045.5,1316.83L1081.9,1286.62M1045.5,1330.48L1081.9,1300.27M1045.5,1344.13L1081.9,1313.92M1045.5,1357.78L1081.9,1327.57M1045.5,1371.43L1081.9,1341.22M1045.5,1385.08L1081.9,1354.87M1045.5,1398.73L1081.9,1368.52M1045.5,1412.38L1081.9,1382.17M1045.5,1426.03L1081.9,1395.82M1045.5,1439.68L1081.9,1409.47M1045.5,1453.33L1081.9,1423.12M1045.5,1466.98L1081.9,1436.77M1045.5,1480.63L1081.9,1450.42M1045.5,1494.28L1081.9,1464.07M1045.5,1507.93L1081.9,1477.72M1045.5,1521.58L1081.9,1491.37M1045.5,1535.23L1081.9,1505.02M1045.5,1548.88L1081.9,1518.67M1045.5,1562.53L1081.9,1532.32M1045.5,1576.18L1081.9,1545.97M1045.5,1589.83L1081.9,1559.62M1045.5,1603.48L1081.9,1573.27M1045.5,1617.13L1081.9,1586.92M1045.5,1630.78L1081.9,1600.57M1045.5,1644.43L1081.9,1614.22M1045.5,1658.08L1081.9,1627.87" stroke="#000" stroke-width="2.12" fill="none"/>
<rect x="1046.5" y="1030.5" width="34.4" height="607.8" fill="none" stroke="#000" stroke-width="2.36" rx="0"/>
<line x1="1029.3" y1="1336" x2="1029.3" y2="1464" stroke="#000" stroke-width="2.12" stroke-linecap="butt"/>
<line x1="1022.3" y1="1336" x2="1036.3" y2="1336" stroke="#000" stroke-width="2.12" stroke-linecap="butt"/>
<line x1="1022.3" y1="1464" x2="1036.3" y2="1464" stroke="#000" stroke-width="2.12" stroke-linecap="butt"/>
<line x1="1063.7" y1="1025.9" x2="1063.7" y2="1034" stroke="#000" stroke-width="1.89" stroke-linecap="butt"/>
<line x1="1056.7" y1="1025.9" x2="1070.7" y2="1025.9" stroke="#000" stroke-width="1.89" stroke-linecap="butt"/>
<line x1="1056.7" y1="1034" x2="1070.7" y2="1034" stroke="#000" stroke-width="1.89" stroke-linecap="butt"/>
<path d="M221,1638.3V918H1149.5V1638.3Z" fill="none" stroke="#000" stroke-width="3.07" stroke-linejoin="round"/>
<line x1="207" y1="1638.3" x2="221" y2="1638.3" stroke="#000" stroke-width="2.83" stroke-linecap="butt"/>
<text x="195.9" y="1648.7" font-family="Liberation Sans" font-size="31.5" font-weight="normal" text-anchor="end">0</text>
<line x1="214" y1="1611.61" x2="221" y2="1611.61" stroke="#000" stroke-width="2.83" stroke-linecap="butt"/>
<line x1="207" y1="1584.92" x2="221" y2="1584.92" stroke="#000" stroke-width="2.83" stroke-linecap="butt"/>
<text x="195.9" y="1595.32" font-family="Liberation Sans" font-size="31.5" font-weight="normal" text-anchor="end">2</text>
<line x1="214" y1="1558.23" x2="221" y2="1558.23" stroke="#000" stroke-width="2.83" stroke-linecap="butt"/>
<line x1="207" y1="1531.54" x2="221" y2="1531.54" stroke="#000" stroke-width="2.83" stroke-linecap="butt"/>
<text x="195.9" y="1541.94" font-family="Liberation Sans" font-size="31.5" font-weight="normal" text-anchor="end">4</text>
<line x1="214" y1="1504.85" x2="221" y2="1504.85" stroke="#000" stroke-width="2.83" stroke-linecap="butt"/>
<line x1="207" y1="1478.16" x2="221" y2="1478.16" stroke="#000" stroke-width="2.83" stroke-linecap="butt"/>
<text x="195.9" y="1488.56" font-family="Liberation Sans" font-size="31.5" font-weight="normal" text-anchor="end">6</text>
<line x1="214" y1="1451.47" x2="221" y2="1451.47" stroke="#000" stroke-width="2.83" stroke-linecap="butt"/>
<line x1="207" y1="1424.78" x2="221" y2="1424.78" stroke="#000" stroke-width="2.83" stroke-linecap="butt"/>
<text x="195.9" y="1435.18" font-family="Liberation Sans" font-size="31.5" font-weight="normal" text-anchor="end">8</text>
<line x1="214" y1="1398.09" x2="221" y2="1398.09" stroke="#000" stroke-width="2.83" stroke-linecap="butt"/>
<line x1="207" y1="1371.4" x2="221" y2="1371.4" stroke="#000" stroke-width="2.83" stroke-linecap="butt"/>
<text x="195.9" y="1381.8" font-family="Liberation Sans" font-size="31.5" font-weight="normal" text-anchor="end">10</text>
<line x1="214" y1="1344.71" x2="221" y2="1344.71" stroke="#000" stroke-width="2.83" stroke-linecap="butt"/>
<line x1="207" y1="1318.02" x2="221" y2="1318.02" stroke="#000" stroke-width="2.83" stroke-linecap="butt"/>
<text x="195.9" y="1328.42" font-family="Liberation Sans" font-size="31.5" font-weight="normal" text-anchor="end">12</text>
<line x1="214" y1="1291.33" x2="221" y2="1291.33" stroke="#000" stroke-width="2.83" stroke-linecap="butt"/>
<line x1="207" y1="1264.64" x2="221" y2="1264.64" stroke="#000" stroke-width="2.83" stroke-linecap="butt"/>
<text x="195.9" y="1275.04" font-family="Liberation Sans" font-size="31.5" font-weight="normal" text-anchor="end">14</text>
<line x1="214" y1="1237.95" x2="221" y2="1237.95" stroke="#000" stroke-width="2.83" stroke-linecap="butt"/>
<line x1="207" y1="1211.26" x2="221" y2="1211.26" stroke="#000" stroke-width="2.83" stroke-linecap="butt"/>
<text x="195.9" y="1221.66" font-family="Liberation Sans" font-size="31.5" font-weight="normal" text-anchor="end">16</text>
<line x1="214" y1="1184.57" x2="221" y2="1184.57" stroke="#000" stroke-width="2.83" stroke-linecap="butt"/>
<line x1="207" y1="1157.88" x2="221" y2="1157.88" stroke="#000" stroke-width="2.83" stroke-linecap="butt"/>
<text x="195.9" y="1168.28" font-family="Liberation Sans" font-size="31.5" font-weight="normal" text-anchor="end">18</text>
<line x1="214" y1="1131.19" x2="221" y2="1131.19" stroke="#000" stroke-width="2.83" stroke-linecap="butt"/>
<line x1="207" y1="1104.5" x2="221" y2="1104.5" stroke="#000" stroke-width="2.83" stroke-linecap="butt"/>
<text x="195.9" y="1114.9" font-family="Liberation Sans" font-size="31.5" font-weight="normal" text-anchor="end">20</text>
<line x1="214" y1="1077.81" x2="221" y2="1077.81" stroke="#000" stroke-width="2.83" stroke-linecap="butt"/>
<line x1="207" y1="1051.12" x2="221" y2="1051.12" stroke="#000" stroke-width="2.83" stroke-linecap="butt"/>
<text x="195.9" y="1061.52" font-family="Liberation Sans" font-size="31.5" font-weight="normal" text-anchor="end">22</text>
<line x1="214" y1="1024.43" x2="221" y2="1024.43" stroke="#000" stroke-width="2.83" stroke-linecap="butt"/>
<line x1="207" y1="997.74" x2="221" y2="997.74" stroke="#000" stroke-width="2.83" stroke-linecap="butt"/>
<text x="195.9" y="1008.14" font-family="Liberation Sans" font-size="31.5" font-weight="normal" text-anchor="end">24</text>
<line x1="214" y1="971.05" x2="221" y2="971.05" stroke="#000" stroke-width="2.83" stroke-linecap="butt"/>
<line x1="207" y1="944.36" x2="221" y2="944.36" stroke="#000" stroke-width="2.83" stroke-linecap="butt"/>
<text x="195.9" y="954.76" font-family="Liberation Sans" font-size="31.5" font-weight="normal" text-anchor="end">26</text>
<line x1="214" y1="917.67" x2="221" y2="917.67" stroke="#000" stroke-width="2.83" stroke-linecap="butt"/>
<line x1="220.9" y1="1638.3" x2="220.9" y2="1644.8" stroke="#000" stroke-width="2.83" stroke-linecap="butt"/>
<line x1="324.1" y1="1638.3" x2="324.1" y2="1651.3" stroke="#000" stroke-width="2.83" stroke-linecap="butt"/>
<text x="0" y="0" font-family="Liberation Sans" font-size="30.5" font-weight="normal" text-anchor="end" transform="translate(332.5,1662.5) rotate(-90)">-1.80</text>
<line x1="427.3" y1="1638.3" x2="427.3" y2="1644.8" stroke="#000" stroke-width="2.83" stroke-linecap="butt"/>
<line x1="530.5" y1="1638.3" x2="530.5" y2="1651.3" stroke="#000" stroke-width="2.83" stroke-linecap="butt"/>
<text x="0" y="0" font-family="Liberation Sans" font-size="30.5" font-weight="normal" text-anchor="end" transform="translate(538.9,1662.5) rotate(-90)">-1.75</text>
<line x1="633.7" y1="1638.3" x2="633.7" y2="1644.8" stroke="#000" stroke-width="2.83" stroke-linecap="butt"/>
<line x1="736.9" y1="1638.3" x2="736.9" y2="1651.3" stroke="#000" stroke-width="2.83" stroke-linecap="butt"/>
<text x="0" y="0" font-family="Liberation Sans" font-size="30.5" font-weight="normal" text-anchor="end" transform="translate(745.3,1662.5) rotate(-90)">-1.70</text>
<line x1="840.1" y1="1638.3" x2="840.1" y2="1644.8" stroke="#000" stroke-width="2.83" stroke-linecap="butt"/>
<line x1="943.3" y1="1638.3" x2="943.3" y2="1651.3" stroke="#000" stroke-width="2.83" stroke-linecap="butt"/>
<text x="0" y="0" font-family="Liberation Sans" font-size="30.5" font-weight="normal" text-anchor="end" transform="translate(951.7,1662.5) rotate(-90)">-1.65</text>
<line x1="1046.5" y1="1638.3" x2="1046.5" y2="1644.8" stroke="#000" stroke-width="2.83" stroke-linecap="butt"/>
<line x1="1149.7" y1="1638.3" x2="1149.7" y2="1651.3" stroke="#000" stroke-width="2.83" stroke-linecap="butt"/>
<text x="0" y="0" font-family="Liberation Sans" font-size="30.5" font-weight="normal" text-anchor="end" transform="translate(1158.1,1662.5) rotate(-90)">-1.60</text>
<text x="0" y="0" font-family="Liberation Sans" font-size="37.8" font-weight="normal" text-anchor="middle" transform="translate(105.8,1276.5) rotate(-90)">Net Charge (C/cm<tspan dy="-19.3" font-size="24.5">2</tspan><tspan dy="19.3">)</tspan></text>
<text x="553.2" y="1781.5" font-family="Liberation Sans" font-size="38.8" font-weight="normal" text-anchor="start">Potential (V<tspan dy="13" font-size="23">SCE</tspan><tspan dy="-13">)</tspan></text>
<text x="0" y="1780.5" font-family="Liberation Serif" font-size="45.5" font-weight="bold" text-anchor="start">(b)</text>
<rect x="493.7" y="1110" width="293.5" height="116" fill="none" stroke="#000" stroke-width="2.36" rx="0"/>
<rect x="504.2" y="1115.3" width="86.4" height="40.5" fill="none" stroke="#000" stroke-width="2.6" rx="2"/>
<path clip-path="url(#c25)" d="M503.2,1172.9L591.5,1084.6M503.2,1186.9L591.5,1098.6M503.2,1200.9L591.5,1112.6M503.2,1214.9L591.5,1126.6M503.2,1228.9L591.5,1140.6M503.2,1242.9L591.5,1154.6M503.2,1256.9L591.5,1168.6M503.2,1270.9L591.5,1182.6M503.2,1284.9L591.5,1196.6M503.2,1298.9L591.5,1210.6" stroke="#000" stroke-width="2.01" fill="none"/>
<rect x="504.2" y="1171.2" width="86.3" height="41.1" fill="none" stroke="#000" stroke-width="2.6" rx="2"/>
<text x="601.2" y="1146" font-family="Liberation Sans" font-size="35.5" font-weight="normal" text-anchor="start">Q<tspan dx="3.5" dy="14.2" font-size="23">H2</tspan></text>
<text x="601.2" y="1202.4" font-family="Liberation Sans" font-size="35.5" font-weight="normal" text-anchor="start">Q<tspan dx="3.5" dy="15.4" font-size="23">i net cathodic</tspan></text></g></svg>
</body></html>
